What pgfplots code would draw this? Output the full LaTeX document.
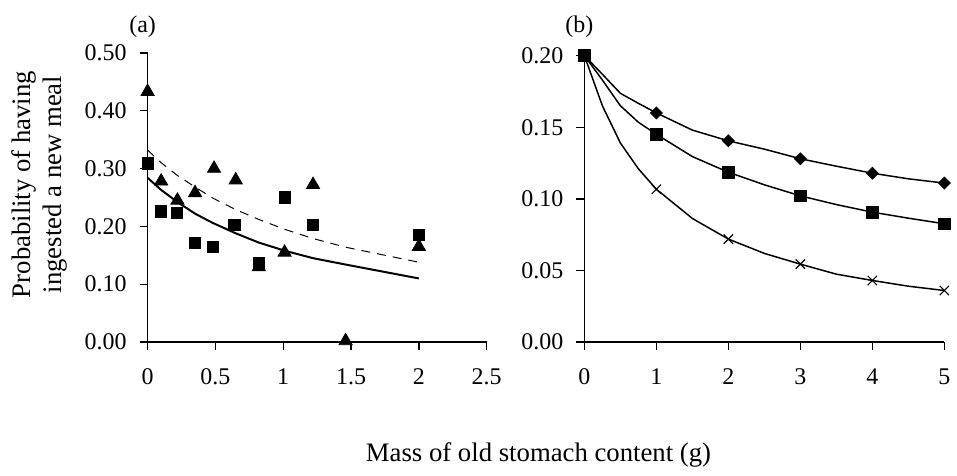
\documentclass[border=0pt]{standalone}
\usepackage{fontspec}
\setmainfont{Liberation Serif}
\usepackage{pgfplots}
\pgfplotsset{compat=1.18}
\begin{document}
\begin{tikzpicture}
\path (0,0) (478.5pt,238.5pt);
% Panel (a)
\begin{axis}[
  axis lines=left,
  axis line style={-, line width=0.6pt},
  tick align=outside,
  major tick length=4pt,
  every tick/.append style={black, line width=0.7pt},
  scale only axis,
  anchor=south west,
  at={(74pt,67pt)}, width=170pt, height=145pt,
  xmin=0, xmax=2.5, ymin=0, ymax=0.5,
  xtick={0,0.5,1,1.5,2,2.5},
  ytick={0,0.1,0.2,0.3,0.4,0.5},
  xticklabels={0,0.5,1,1.5,2,2.5},
  yticklabels={0.00,0.10,0.20,0.30,0.40,0.50},
  ticklabel style={font=\fontsize{12}{14}\selectfont},
  x tick label style={yshift=-6pt},
  y tick label style={xshift=-3pt},
]
\addplot[black, line width=0.5pt, dash pattern=on 4.5pt off 3.5pt] coordinates {
 (0,0.332) (0.1,0.310) (0.22,0.288) (0.35,0.268) (0.48,0.249) (0.65,0.229)
 (0.82,0.212) (1.01,0.195) (1.22,0.179) (1.46,0.164) (2.0,0.138)};
\addplot[black, line width=1pt] coordinates {
 (0,0.284) (0.1,0.263) (0.22,0.242) (0.35,0.222) (0.48,0.206) (0.65,0.188)
 (0.82,0.172) (1.01,0.158) (1.22,0.145) (1.46,0.134) (2.0,0.110)};
\addplot[only marks, mark=square*, mark size=2.8pt, black] coordinates {
 (0,0.309) (0.1,0.226) (0.215,0.224) (0.35,0.172) (0.48,0.164) (0.64,0.202)
 (0.82,0.137) (1.01,0.250) (1.22,0.202) (2.0,0.185)};
\addplot[only marks, mark=triangle*, mark size=3.8pt, black] coordinates {
 (0,0.433) (0.1,0.278) (0.22,0.245) (0.35,0.258) (0.49,0.300) (0.65,0.280)
 (0.82,0.130) (1.01,0.155) (1.22,0.272) (1.46,0.002) (2.0,0.165)};
\end{axis}
% Panel (b)
\begin{axis}[
  axis lines=left,
  axis line style={-, line width=0.6pt},
  tick align=outside,
  major tick length=4pt,
  every tick/.append style={black, line width=0.7pt},
  scale only axis,
  anchor=south west,
  at={(293pt,67pt)}, width=180.5pt, height=143.6pt,
  xmin=0, xmax=5, ymin=0, ymax=0.2,
  xtick={0,1,2,3,4,5},
  ytick={0,0.05,0.1,0.15,0.2},
  xticklabels={0,1,2,3,4,5},
  yticklabels={0.00,0.05,0.10,0.15,0.20},
  ticklabel style={font=\fontsize{12}{14}\selectfont},
  x tick label style={yshift=-6pt},
  y tick label style={xshift=-3pt},
]
\addplot[black, line width=0.75pt] coordinates {
 (0,0.2) (0.25,0.187) (0.5,0.1737) (0.75,0.1667) (1,0.160) (1.5,0.148) (2,0.1405)
 (2.5,0.1347) (3,0.128) (3.5,0.1228) (4,0.1179) (4.5,0.114) (5,0.111)};
\addplot[black, line width=0.75pt] coordinates {
 (0,0.2) (0.25,0.183) (0.5,0.165) (0.75,0.1535) (1,0.1451) (1.5,0.1295) (2,0.1186)
 (2.5,0.1098) (3,0.1021) (3.5,0.096) (4,0.0907) (4.5,0.0865) (5,0.0826)};
\addplot[black, line width=0.75pt] coordinates {
 (0,0.2) (0.25,0.165) (0.5,0.139) (0.75,0.121) (1,0.1067) (1.5,0.0863) (2,0.0719)
 (2.5,0.0619) (3,0.0544) (3.5,0.0474) (4,0.043) (4.5,0.039) (5,0.036)};
\addplot[only marks, mark=x, mark size=3.3pt, black, mark options={line width=0.6pt}] coordinates {
 (0,0.2) (1,0.1067) (2,0.0719) (3,0.0544) (4,0.043) (5,0.036)};
\addplot[only marks, mark=square*, mark size=2.1pt, black, mark options={rotate=45}] coordinates {
 (0,0.2) (1,0.160) (2,0.1405) (3,0.128) (4,0.1179) (5,0.111)};
\addplot[only marks, mark=square*, mark size=2.9pt, black] coordinates {
 (0,0.2) (1,0.1451) (2,0.1186) (3,0.1021) (4,0.0907) (5,0.0826)};
\end{axis}
\node[font=\fontsize{12}{14}\selectfont] at (71.5pt,225pt) {(a)};
\node[font=\fontsize{12}{14}\selectfont] at (290.5pt,225pt) {(b)};
\node[rotate=90, align=center, font=\fontsize{13.4}{15.5}\selectfont] at (20pt,146pt) {Probability of having\\ingested a new meal};
\node[anchor=base, font=\fontsize{13.4}{15}\selectfont] at (270pt,7pt) {Mass of old stomach content (g)};
\end{tikzpicture}
\end{document}
